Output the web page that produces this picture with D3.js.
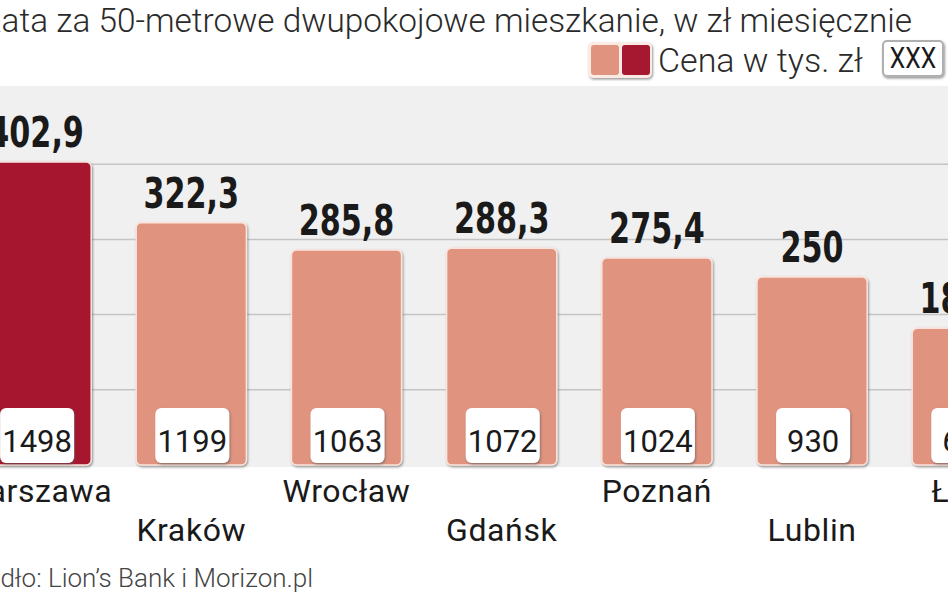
<!DOCTYPE html>
<html lang="pl">
<head>
<meta charset="UTF-8">
<title>Rata za mieszkanie</title>
<script src="https://cdnjs.cloudflare.com/ajax/libs/d3/7.8.5/d3.min.js"></script>
<style>
    html, body { margin: 0; padding: 0; background: #fff; overflow: hidden; }
    svg { display: block; }
</style>
</head>
<body>
<div id="chart"></div>
<script>
    // dane
    var cities = ['Warszawa', 'Kraków', 'Wrocław', 'Gdańsk', 'Poznań', 'Lublin', 'Łódź'];
    var prices = [402.9, 322.3, 285.8, 288.3, 275.4, 250, 181.8];   // cena w tys. zł
    var rents = [1498, 1199, 1063, 1072, 1024, 930, 680];            // rata w zł miesięcznie
    var gridValues = [100, 200, 300, 400];
    var highlight = 'Warszawa';

    var W = 948, H = 593;
    var salmon = '#e0937f', crimson = '#a6182f';

    var svg = d3.select('#chart').append('svg')
        .attr('width', W)
        .attr('height', H);

    var defs = svg.append('defs');
    var shadow = defs.append('filter').attr('id', 'shadow')
        .attr('x', '-10%').attr('y', '-10%').attr('width', '130%').attr('height', '130%');
    shadow.append('feDropShadow')
        .attr('dx', 1).attr('dy', 1.5).attr('stdDeviation', 1.2)
        .attr('flood-color', '#555').attr('flood-opacity', 0.6);

    var x = d3.scaleBand()
        .domain(cities)
        .range([-19, 1022.4])
        .paddingInner(0.29)
        .paddingOuter(0);

    var y = d3.scaleLinear()
        .domain([0, 504])
        .range([465, 86]);

    // szare tło wykresu
    svg.append('rect')
        .attr('x', 0).attr('y', y(504))
        .attr('width', W).attr('height', y(0) - y(504) + 2)
        .attr('fill', '#f0f0f0');

    // linie siatki
    svg.append('g').selectAll('line')
        .data(gridValues)
        .join('line')
        .attr('x1', 0).attr('x2', W)
        .attr('y1', d => y(d)).attr('y2', d => y(d))
        .attr('stroke', '#c4c4c4')
        .attr('stroke-width', 1.5);

    var data = cities.map((c, i) => ({ city: c, price: prices[i], rent: rents[i], i: i }));

    var bars = svg.append('g').selectAll('g')
        .data(data)
        .join('g');

    bars.append('rect')
        .attr('x', d => x(d.city))
        .attr('y', d => y(d.price))
        .attr('width', x.bandwidth())
        .attr('height', d => y(0) - y(d.price))
        .attr('rx', 5)
        .attr('fill', d => d.city === highlight ? crimson : salmon)
        .attr('stroke', '#fbe4dc')
        .attr('stroke-width', 1.5)
        .attr('filter', 'url(#shadow)');

    // białe pola z ratą
    var boxW = 74, boxH = 55;
    bars.append('rect')
        .attr('x', d => x(d.city) + x.bandwidth() / 2 - boxW / 2 + 1)
        .attr('y', y(0) - boxH - 2)
        .attr('width', boxW)
        .attr('height', boxH)
        .attr('rx', 6)
        .attr('fill', '#fff')
        .attr('filter', 'url(#shadow)');

    bars.append('text')
        .attr('x', d => x(d.city) + x.bandwidth() / 2 + 1)
        .attr('y', 452)
        .attr('text-anchor', 'middle')
        .attr('font-family', 'Roboto, "DejaVu Sans", sans-serif')
        .attr('font-size', 31)
        .attr('fill', '#1a1a1a')
        .text(d => d.rent);

    // wartości nad słupkami (pogrubione, zwężone)
    bars.append('text')
        .attr('transform', d => 'translate(' + (x(d.city) + x.bandwidth() / 2) + ',' + (y(d.price) - 15) + ') scale(0.8,1)')
        .attr('text-anchor', 'middle')
        .attr('font-family', '"DejaVu Sans Condensed", "DejaVu Sans", sans-serif')
        .attr('font-weight', 'bold')
        .attr('font-size', 42)
        .attr('fill', '#1a1a1a')
        .text(d => String(d.price).replace('.', ','));

    // nazwy miast w dwóch rzędach
    bars.append('text')
        .attr('x', d => x(d.city) + x.bandwidth() / 2)
        .attr('y', d => d.i % 2 === 0 ? 502 : 541)
        .attr('text-anchor', 'middle')
        .attr('font-family', 'Roboto, "DejaVu Sans", sans-serif')
        .attr('font-size', 32)
        .attr('letter-spacing', 0.6)
        .attr('fill', '#1a1a1a')
        .text(d => d.city);

    // tytuł
    var title = svg.append('text')
        .attr('y', 32)
        .attr('font-family', 'Roboto, "DejaVu Sans", sans-serif')
        .attr('font-weight', 300)
        .attr('font-size', 34)
        .attr('fill', '#2a2a2a')
        .text('Rata za 50-metrowe dwupokojowe mieszkanie, w zł miesięcznie');
    var tmp = svg.append('text')
        .attr('font-family', 'Roboto, "DejaVu Sans", sans-serif')
        .attr('font-weight', 300)
        .attr('font-size', 34)
        .text('R');
    var wR = tmp.node().getComputedTextLength();
    tmp.remove();
    var tx = 2 - wR;
    title.attr('x', tx)
        .attr('textLength', 912 - tx)
        .attr('lengthAdjust', 'spacingAndGlyphs');

    // legenda
    var leg = svg.append('g');
    leg.append('rect')
        .attr('x', 588).attr('y', 42).attr('width', 64).attr('height', 36)
        .attr('rx', 5).attr('fill', '#fbe9e3')
        .attr('filter', 'url(#shadow)');
    leg.append('rect')
        .attr('x', 591).attr('y', 45).attr('width', 28).attr('height', 30)
        .attr('rx', 3).attr('fill', salmon);
    leg.append('rect')
        .attr('x', 622).attr('y', 45).attr('width', 28).attr('height', 30)
        .attr('rx', 3).attr('fill', crimson);
    leg.append('text')
        .attr('x', 658).attr('y', 72)
        .attr('font-family', 'Roboto, "DejaVu Sans", sans-serif')
        .attr('font-weight', 300)
        .attr('font-size', 34)
        .attr('fill', '#2a2a2a')
        .text('Cena w tys. zł');
    leg.append('rect')
        .attr('x', 883).attr('y', 41).attr('width', 60).attr('height', 35)
        .attr('rx', 4).attr('fill', '#fff')
        .attr('stroke', '#b0b0b0').attr('stroke-width', 2)
        .attr('filter', 'url(#shadow)');
    leg.append('text')
        .attr('transform', 'translate(913,68) scale(0.85,1)')
        .attr('text-anchor', 'middle')
        .attr('font-family', 'Roboto, "DejaVu Sans", sans-serif')
        .attr('font-size', 29)
        .attr('fill', '#1a1a1a')
        .text('XXX');

    // źródło
    svg.append('text')
        .attr('x', 313).attr('y', 587)
        .attr('text-anchor', 'end')
        .attr('font-family', 'Roboto, "DejaVu Sans", sans-serif')
        .attr('font-weight', 300)
        .attr('font-size', 26)
        .attr('fill', '#444')
        .text('Źródło: Lion’s Bank i Morizon.pl');
</script>
</body>
</html>
